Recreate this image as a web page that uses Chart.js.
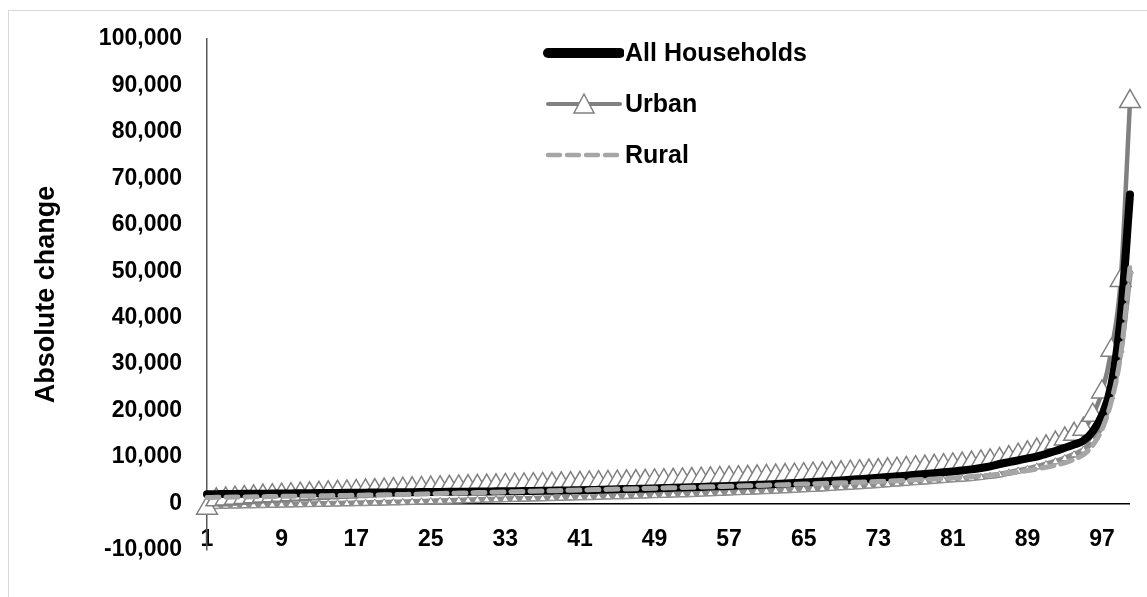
<!DOCTYPE html>
<html>
<head>
<meta charset="utf-8">
<script src="https://cdn.jsdelivr.net/npm/chart.js@4.4.0/dist/chart.umd.min.js"></script>
<style>
  body { margin: 0; background: #fff; }
  #wrap { position: relative; width: 1147px; height: 597px; overflow: hidden; }
  #frame { position: absolute; left: 8px; top: 10px; width: 1150px; height: 600px; border: 1px solid #d9d9d9; }
  #chart { position: absolute; left: 0; top: 0; }
  #legend { position: absolute; left: 542px; top: 27px; font: bold 25px "Liberation Sans", Arial, sans-serif; color: #000; }
  .item { height: 51px; display: flex; align-items: center; }
  .item svg { margin-right: 1px; }
</style>
</head>
<body>
<div id="wrap">
  <div id="frame"></div>
  <canvas id="chart" width="1147" height="597"></canvas>
  <div id="legend"></div>
</div>
<script>
// percentiles 1..100 on the x axis
const percentiles = Array.from({ length: 100 }, (_, i) => i + 1);

const seriesNames = ['All Households', 'Urban', 'Rural'];

const allHouseholds = [
  2000, 2020, 2040, 2060, 2080, 2100, 2120, 2140, 2160, 2180,
  2200, 2220, 2240, 2260, 2280, 2300, 2320, 2340, 2360, 2380,
  2400, 2420, 2440, 2460, 2480, 2500, 2520, 2540, 2560, 2580,
  2600, 2620, 2640, 2660, 2680, 2710, 2740, 2770, 2800, 2830,
  2860, 2900, 2950, 3000, 3050, 3100, 3150, 3200, 3260, 3320,
  3380, 3440, 3500, 3570, 3640, 3710, 3780, 3860, 3940, 4020,
  4100, 4200, 4300, 4400, 4500, 4620, 4740, 4860, 4980, 5100,
  5250, 5400, 5550, 5700, 5850, 6000, 6180, 6360, 6540, 6720,
  6900, 7100, 7350, 7650, 8000, 8500, 8900, 9300, 9700, 10100,
  10700, 11300, 12000, 12700, 13500, 15500, 19000, 25500, 40000, 66500
];

const urban = [
  -1000, 800, 1000, 1150, 1300, 1450, 1600, 1700, 1800, 1900,
  2000, 2100, 2200, 2300, 2400, 2500, 2600, 2700, 2800, 2900,
  3000, 3080, 3160, 3240, 3320, 3400, 3480, 3560, 3640, 3700,
  3760, 3820, 3880, 3940, 4000, 4060, 4120, 4180, 4240, 4300,
  4360, 4420, 4480, 4540, 4600, 4660, 4720, 4780, 4850, 4920,
  5000, 5080, 5160, 5240, 5320, 5400, 5480, 5560, 5650, 5740,
  5830, 5920, 6010, 6100, 6200, 6300, 6400, 6500, 6620, 6740,
  6860, 6980, 7100, 7250, 7400, 7550, 7700, 7850, 8000, 8150,
  8300, 8500, 8700, 8950, 9200, 9500, 9900, 10400, 10900, 11500,
  12200, 13000, 13900, 14900, 16000, 19000, 24000, 33000, 48000, 86500
];

const rural = [
  1300, 1330, 1360, 1390, 1420, 1450, 1480, 1510, 1540, 1570,
  1600, 1630, 1660, 1690, 1720, 1750, 1780, 1810, 1840, 1870,
  1900, 1950, 2000, 2050, 2100, 2150, 2200, 2250, 2300, 2350,
  2400, 2450, 2500, 2550, 2600, 2650, 2700, 2750, 2800, 2850,
  2900, 2950, 3000, 3050, 3100, 3150, 3200, 3250, 3300, 3350,
  3400, 3450, 3500, 3550, 3600, 3650, 3700, 3760, 3820, 3880,
  3940, 4000, 4060, 4120, 4180, 4250, 4320, 4390, 4460, 4530,
  4600, 4680, 4760, 4840, 4920, 5000, 5100, 5200, 5300, 5400,
  5500, 5650, 5800, 5950, 6100, 6300, 6550, 6800, 7100, 7450,
  7800, 8250, 8750, 9500, 10500, 12500, 16000, 22000, 32000, 51000
];

// lower grey band with small triangles (not in the legend)
const urbanLower = [
  -600, -560, -520, -480, -440, -400, -360, -320, -280, -240,
  -200, -160, -120, -80, -40, 0, 40, 80, 120, 160,
  200, 260, 320, 380, 440, 500, 560, 620, 680, 740,
  800, 850, 900, 950, 1000, 1050, 1100, 1150, 1200, 1250,
  1300, 1350, 1400, 1460, 1520, 1580, 1640, 1700, 1760, 1820,
  1880, 1940, 2000, 2080, 2160, 2240, 2320, 2400, 2480, 2560,
  2640, 2720, 2800, 2900, 3000, 3100, 3200, 3320, 3440, 3560,
  3680, 3800, 3950, 4100, 4250, 4400, 4550, 4700, 4850, 5000,
  5150, 5300, 5450, 5650, 5900, 6200, 6600, 7000, 7400, 7900,
  8400, 9000, 9700, 10500, 11500, 13500, 17000, 23000, 33000, 50000
];

const yTicks = { min: -10000, max: 100000, step: 10000 };
const labelEvery = 8;

const font = { family: '"Liberation Sans", Arial, sans-serif', weight: 'bold', size: 23 };

const ctx = document.getElementById('chart');
const myChart = new Chart(ctx, {
  type: 'line',
  data: {
    labels: percentiles,
    datasets: [
      {
        label: seriesNames[2],
        data: rural,
        borderColor: '#a6a6a6',
        borderWidth: 5,
        borderDash: [12, 7],
        borderCapStyle: 'round',
        pointRadius: 0,
        cubicInterpolationMode: 'monotone'
      },
      {
        label: seriesNames[0],
        data: allHouseholds,
        borderColor: '#000',
        borderWidth: 8,
        borderCapStyle: 'round',
        pointRadius: 0,
        cubicInterpolationMode: 'monotone'
      },
      {
        label: seriesNames[1],
        data: urban,
        borderColor: '#808080',
        borderWidth: 4.5,
        pointStyle: 'triangle',
        pointRadius: 12,
        pointBackgroundColor: '#fff',
        pointBorderColor: '#808080',
        pointBorderWidth: 1.5,
        cubicInterpolationMode: 'monotone'
      },
      {
        label: '',
        data: urbanLower,
        borderColor: '#8c8c8c',
        borderWidth: 6,
        pointStyle: 'triangle',
        pointRadius: 4,
        pointBackgroundColor: '#fff',
        pointBorderColor: '#8c8c8c',
        pointBorderWidth: 1,
        cubicInterpolationMode: 'monotone'
      }
    ]
  },
  options: {
    responsive: false,
    animation: false,
    layout: { padding: { top: 24, right: 17, bottom: 47, left: 0 } },
    plugins: {
      legend: { display: false },
      tooltip: { enabled: false }
    },
    scales: {
      x: {
        type: 'category',
        position: { y: -2600 },
        offset: false,
        grid: { display: false },
        border: { display: false },
        ticks: {
          autoSkip: false,
          maxRotation: 0,
          padding: 2,
          color: '#000',
          font: font,
          callback: (v, i) => (i % labelEvery === 0 ? percentiles[i] : null)
        }
      },
      y: {
        min: yTicks.min,
        max: yTicks.max,
        afterFit: (s) => { s.width = 207; },
        ticks: { stepSize: yTicks.step, padding: 25, color: '#000', font: font },
        grid: {
          drawTicks: false,
          lineWidth: 1.5,
          color: (c) => (c.tick && c.tick.value === 0 ? '#000' : 'rgba(0,0,0,0)')
        },
        border: { display: true, color: '#595959', width: 1.5 },
        title: {
          display: true,
          text: 'Absolute change',
          color: '#000',
          font: { family: font.family, weight: 'bold', size: 27 },
          padding: { top: 30, bottom: 0 }
        }
      }
    }
  }
});

// legend drawn next to the lines, in the same order as the reference
const swatches = [
  '<line x1="6" y1="15" x2="78" y2="15" stroke="#000" stroke-width="10" stroke-linecap="round"/>',
  '<line x1="6" y1="15" x2="78" y2="15" stroke="#808080" stroke-width="4" stroke-linecap="round"/>' +
    '<polygon points="42,5 52,24 32,24" fill="#fff" stroke="#808080" stroke-width="1.5"/>',
  '<line x1="6" y1="15" x2="78" y2="15" stroke="#a6a6a6" stroke-width="4.5" stroke-dasharray="12 7" stroke-linecap="round"/>'
];
document.getElementById('legend').innerHTML = seriesNames.map((n, i) =>
  '<div class="item"><svg width="82" height="30">' + swatches[i] + '</svg>' + n + '</div>'
).join('');
</script>
</body>
</html>
